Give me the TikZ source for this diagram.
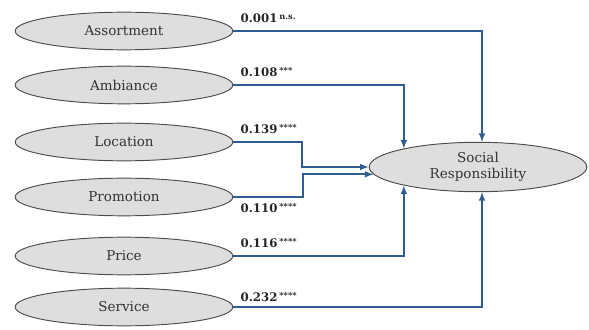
\documentclass[tikz,border=0pt]{standalone}
\usepackage{fontspec}
\setmainfont{DejaVu Serif}
\usetikzlibrary{shapes,arrows,positioning}
\definecolor{pathblue}{RGB}{47,93,145}
\definecolor{ellgray}{RGB}{222,222,222}
\newcommand{\sig}[1]{\,{\fontsize{7}{7}\selectfont\raisebox{2.5pt}{#1}}}

\begin{document}
\begin{tikzpicture}[x=0.85pt,y=-0.85pt]
\tikzstyle{factor}=[ellipse,draw=black!70,fill=ellgray,line width=0.8pt,minimum width=185pt,minimum height=32pt,inner sep=0pt,text=black!80,font=\fontsize{11.5}{13.5}\selectfont]
\tikzstyle{outcome}=[factor,minimum height=42pt,align=center]
\tikzstyle{effect}=[draw=pathblue,line width=1.5pt,-latex]
\tikzstyle{coef}=[inner sep=0pt,text=black!85,font=\bfseries\fontsize{10}{11}\selectfont]
\useasboundingbox (0,0) rectangle (589,330);
% exogenous factors
\node[factor] (ast) at (124,31) {Assortment};
\node[factor] (amb) at (124,85) {Ambiance};
\node[factor] (loc) at (124,142) {Location};
\node[factor] (pro) at (124,197) {Promotion};
\node[factor] (pri) at (124,256) {Price};
\node[factor] (ser) at (124,307) {Service};
% outcome
\node[outcome] (sr) at (478,167) {Social\\Responsibility};
% paths
\draw[effect] (ast.east) -| (sr.81);
\draw[effect] (amb.east) -| (sr.166);
\draw[effect] (loc.east) -- ++(69,0) |- (sr.west);
\draw[effect] (pro.east) -- ++(70,0) |- (sr.184);
\draw[effect] (pri.east) -| (sr.194);
\draw[effect] (ser.east) -| (sr.279);
% coefficients
\node[coef,anchor=base west] (cast) at ([xshift=6pt,yshift=7pt]ast.east) {0.001\sig{n.s.}};
\node[coef,anchor=base west] (camb) at ([xshift=6pt,yshift=7pt]amb.east) {0.108\sig{***}};
\node[coef,anchor=base west] (cloc) at ([xshift=6pt,yshift=7pt]loc.east) {0.139\sig{****}};
\node[coef,anchor=north west] (cpro) at ([xshift=6pt,yshift=-5pt]pro.east) {0.110\sig{****}};
\node[coef,anchor=base west] (cpri) at ([xshift=6pt,yshift=7pt]pri.east) {0.116\sig{****}};
\node[coef,anchor=base west] (cser) at ([xshift=6pt,yshift=5pt]ser.east) {0.232\sig{****}};
\end{tikzpicture}
\end{document}
